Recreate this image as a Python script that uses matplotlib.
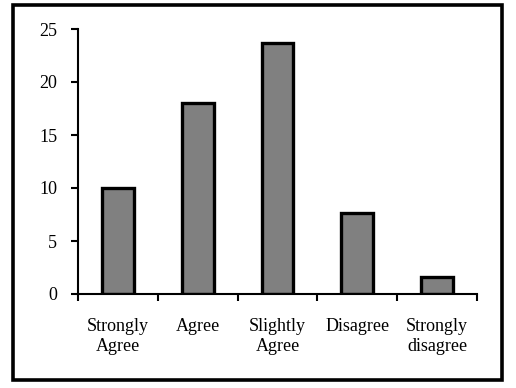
import matplotlib
matplotlib.use("Agg")
import matplotlib.pyplot as plt
from matplotlib.patches import Rectangle

categories = ["Strongly\nAgree", "Agree", "Slightly\nAgree", "Disagree", "Strongly\ndisagree"]
values = [10, 18, 23.7, 7.6, 1.6]
yticks = [0, 5, 10, 15, 20, 25]

plt.rcParams['font.family'] = ['Liberation Serif', 'DejaVu Serif']

fig = plt.figure(figsize=(5.16, 3.88), dpi=100)
ax = fig.add_axes([78/516, 1-294/388, (477-78)/516, (294-29)/388])

x = list(range(len(categories)))
ax.bar(x, values, width=0.4, color="#808080", edgecolor="black", linewidth=2.4)
ax.set_xlim(-0.5, len(categories)-0.5)
ax.set_ylim(0, 25)
ax.set_yticks(yticks)
ax.set_yticklabels([str(v) for v in yticks], fontsize=13)
ax.set_xticks([i - 0.5 for i in range(len(categories)+1)], minor=False)
ax.set_xticklabels([])
ax.set_xticks(x, minor=True)
ax.set_xticklabels(categories, minor=True, fontsize=13, linespacing=1.25)
ax.tick_params(axis='x', which='minor', length=0, pad=17)
ax.tick_params(axis='x', which='major', length=5, width=1.5, direction='out')
ax.tick_params(axis='y', length=5, width=1.5, direction='out', pad=10)
for s in ['top', 'right']:
    ax.spines[s].set_visible(False)
for s in ['left', 'bottom']:
    ax.spines[s].set_linewidth(1.5)

fig.patches.append(Rectangle((13/516, 1-380/388), (502-13)/516, (380-5)/388,
                             transform=fig.transFigure, fill=False,
                             edgecolor='black', linewidth=2.6))

fig.savefig("out.png", dpi=100)
